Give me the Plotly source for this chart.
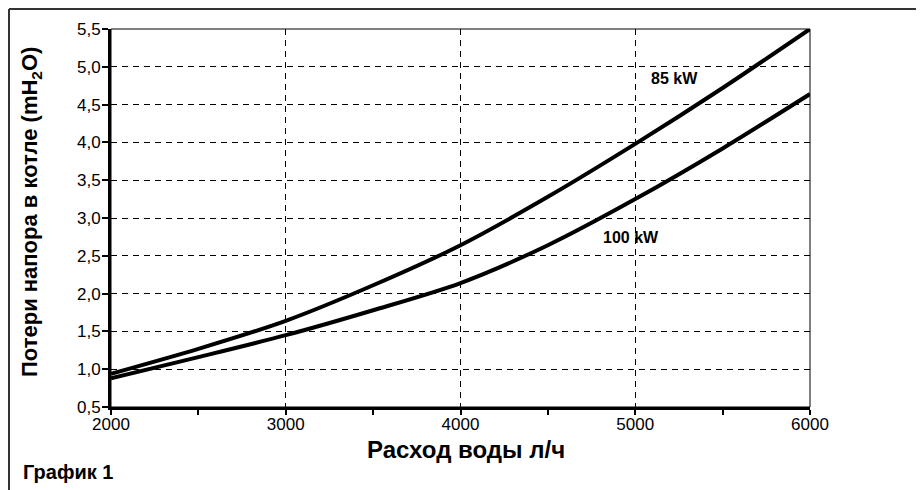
"""Потери напора в котле — график 1."""

import plotly.graph_objects as go

# Расход воды, л/ч
flow = [2000, 2500, 3000, 3500, 4000, 4500, 5000, 5500, 6000]
# Потери напора, mH2O
loss_85kw = [0.94, 1.27, 1.64, 2.11, 2.64, 3.28, 3.98, 4.72, 5.50]
loss_100kw = [0.88, 1.16, 1.45, 1.78, 2.14, 2.64, 3.25, 3.92, 4.64]

x_ticks = [2000, 3000, 4000, 5000, 6000]
y_ticks = [0.5, 1.0, 1.5, 2.0, 2.5, 3.0, 3.5, 4.0, 4.5, 5.0, 5.5]
y_tick_text = [f"{v:.1f}".replace(".", ",") for v in y_ticks]

FONT = "Liberation Sans, Arial, sans-serif"
# page body has an 8px margin, so the figure starts at page (8, 8)
OFF = 8
W, H = 924 - OFF, 490 - OFF
M = dict(l=111 - OFF, r=924 - 810, t=29 - OFF, b=490 - 407)
PW = W - M["l"] - M["r"]
PH = H - M["t"] - M["b"]


def px_to_paper_x(px):
    # px is a page pixel
    return (px - OFF - M["l"]) / PW


def px_to_paper_y(py):
    return (H - M["b"] - (py - OFF)) / PH


fig = go.Figure()

for name, ys in [("85 kW", loss_85kw), ("100 kW", loss_100kw)]:
    fig.add_trace(go.Scatter(
        x=flow,
        y=ys,
        name=name,
        mode="lines",
        line=dict(color="black", width=4, shape="spline", smoothing=0.8),
        showlegend=False,
    ))

fig.update_layout(
    width=W,
    height=H,
    margin=M,
    paper_bgcolor="white",
    plot_bgcolor="white",
    font=dict(family=FONT, color="black", size=17),
    xaxis=dict(
        range=[2000, 6000],
        tickvals=x_ticks,
        ticks="outside",
        ticklen=5,
        tickwidth=2,
        tickcolor="black",
        ticklabelstandoff=-5,
        minor=dict(dtick=500, ticks="outside", ticklen=5, tickwidth=2,
                   tickcolor="black", showgrid=False),
        showgrid=True,
        gridcolor="black",
        gridwidth=1,
        griddash="6px,5px",
        showline=True,
        linecolor="black",
        linewidth=3,
        zeroline=False,
        tickfont=dict(size=17),
    ),
    yaxis=dict(
        range=[0.5, 5.5],
        tickvals=y_ticks,
        ticktext=y_tick_text,
        ticks="outside",
        ticklen=6,
        tickwidth=2,
        tickcolor="black",
        ticklabelstandoff=-2,
        showgrid=True,
        gridcolor="black",
        gridwidth=1,
        griddash="6px,5px",
        showline=True,
        linecolor="black",
        linewidth=3,
        zeroline=False,
        tickfont=dict(size=17),
    ),
)

# thin box on top/right of plot area and the page frame
fig.add_shape(type="rect", xref="paper", yref="paper", x0=0, x1=1, y0=0, y1=1,
              line=dict(color="black", width=1), layer="below")
fig.add_shape(type="line", xref="paper", yref="paper",
              x0=px_to_paper_x(OFF + 1), x1=px_to_paper_x(930),
              y0=px_to_paper_y(OFF + 1), y1=px_to_paper_y(OFF + 1),
              line=dict(color="#333", width=2))
fig.add_shape(type="line", xref="paper", yref="paper",
              x0=px_to_paper_x(OFF + 1), x1=px_to_paper_x(OFF + 1),
              y0=px_to_paper_y(OFF + 1), y1=px_to_paper_y(495),
              line=dict(color="#333", width=2))

# curve labels
fig.add_annotation(x=5227, y=4.85, text="<b>85 kW</b>", showarrow=False,
                   font=dict(size=16))
fig.add_annotation(x=4976, y=2.74, text="<b>100 kW</b>", showarrow=False,
                   font=dict(size=16))

# axis titles
fig.add_annotation(xref="paper", yref="paper",
                   x=px_to_paper_x(466), y=px_to_paper_y(449),
                   xanchor="center", yanchor="middle",
                   text="<b>Расход воды л/ч</b>", showarrow=False,
                   font=dict(size=24))
fig.add_annotation(xref="paper", yref="paper",
                   x=px_to_paper_x(31), y=px_to_paper_y(212),
                   xanchor="center", yanchor="middle",
                   text="<b>Потери напора в котле (mH<sub>2</sub>O)</b>",
                   textangle=-90, showarrow=False, font=dict(size=22))
fig.add_annotation(xref="paper", yref="paper",
                   x=px_to_paper_x(21), y=px_to_paper_y(472),
                   xanchor="left", yanchor="middle",
                   text="<b>График 1</b>", showarrow=False,
                   font=dict(size=20))

fig.write_html("out.html")
